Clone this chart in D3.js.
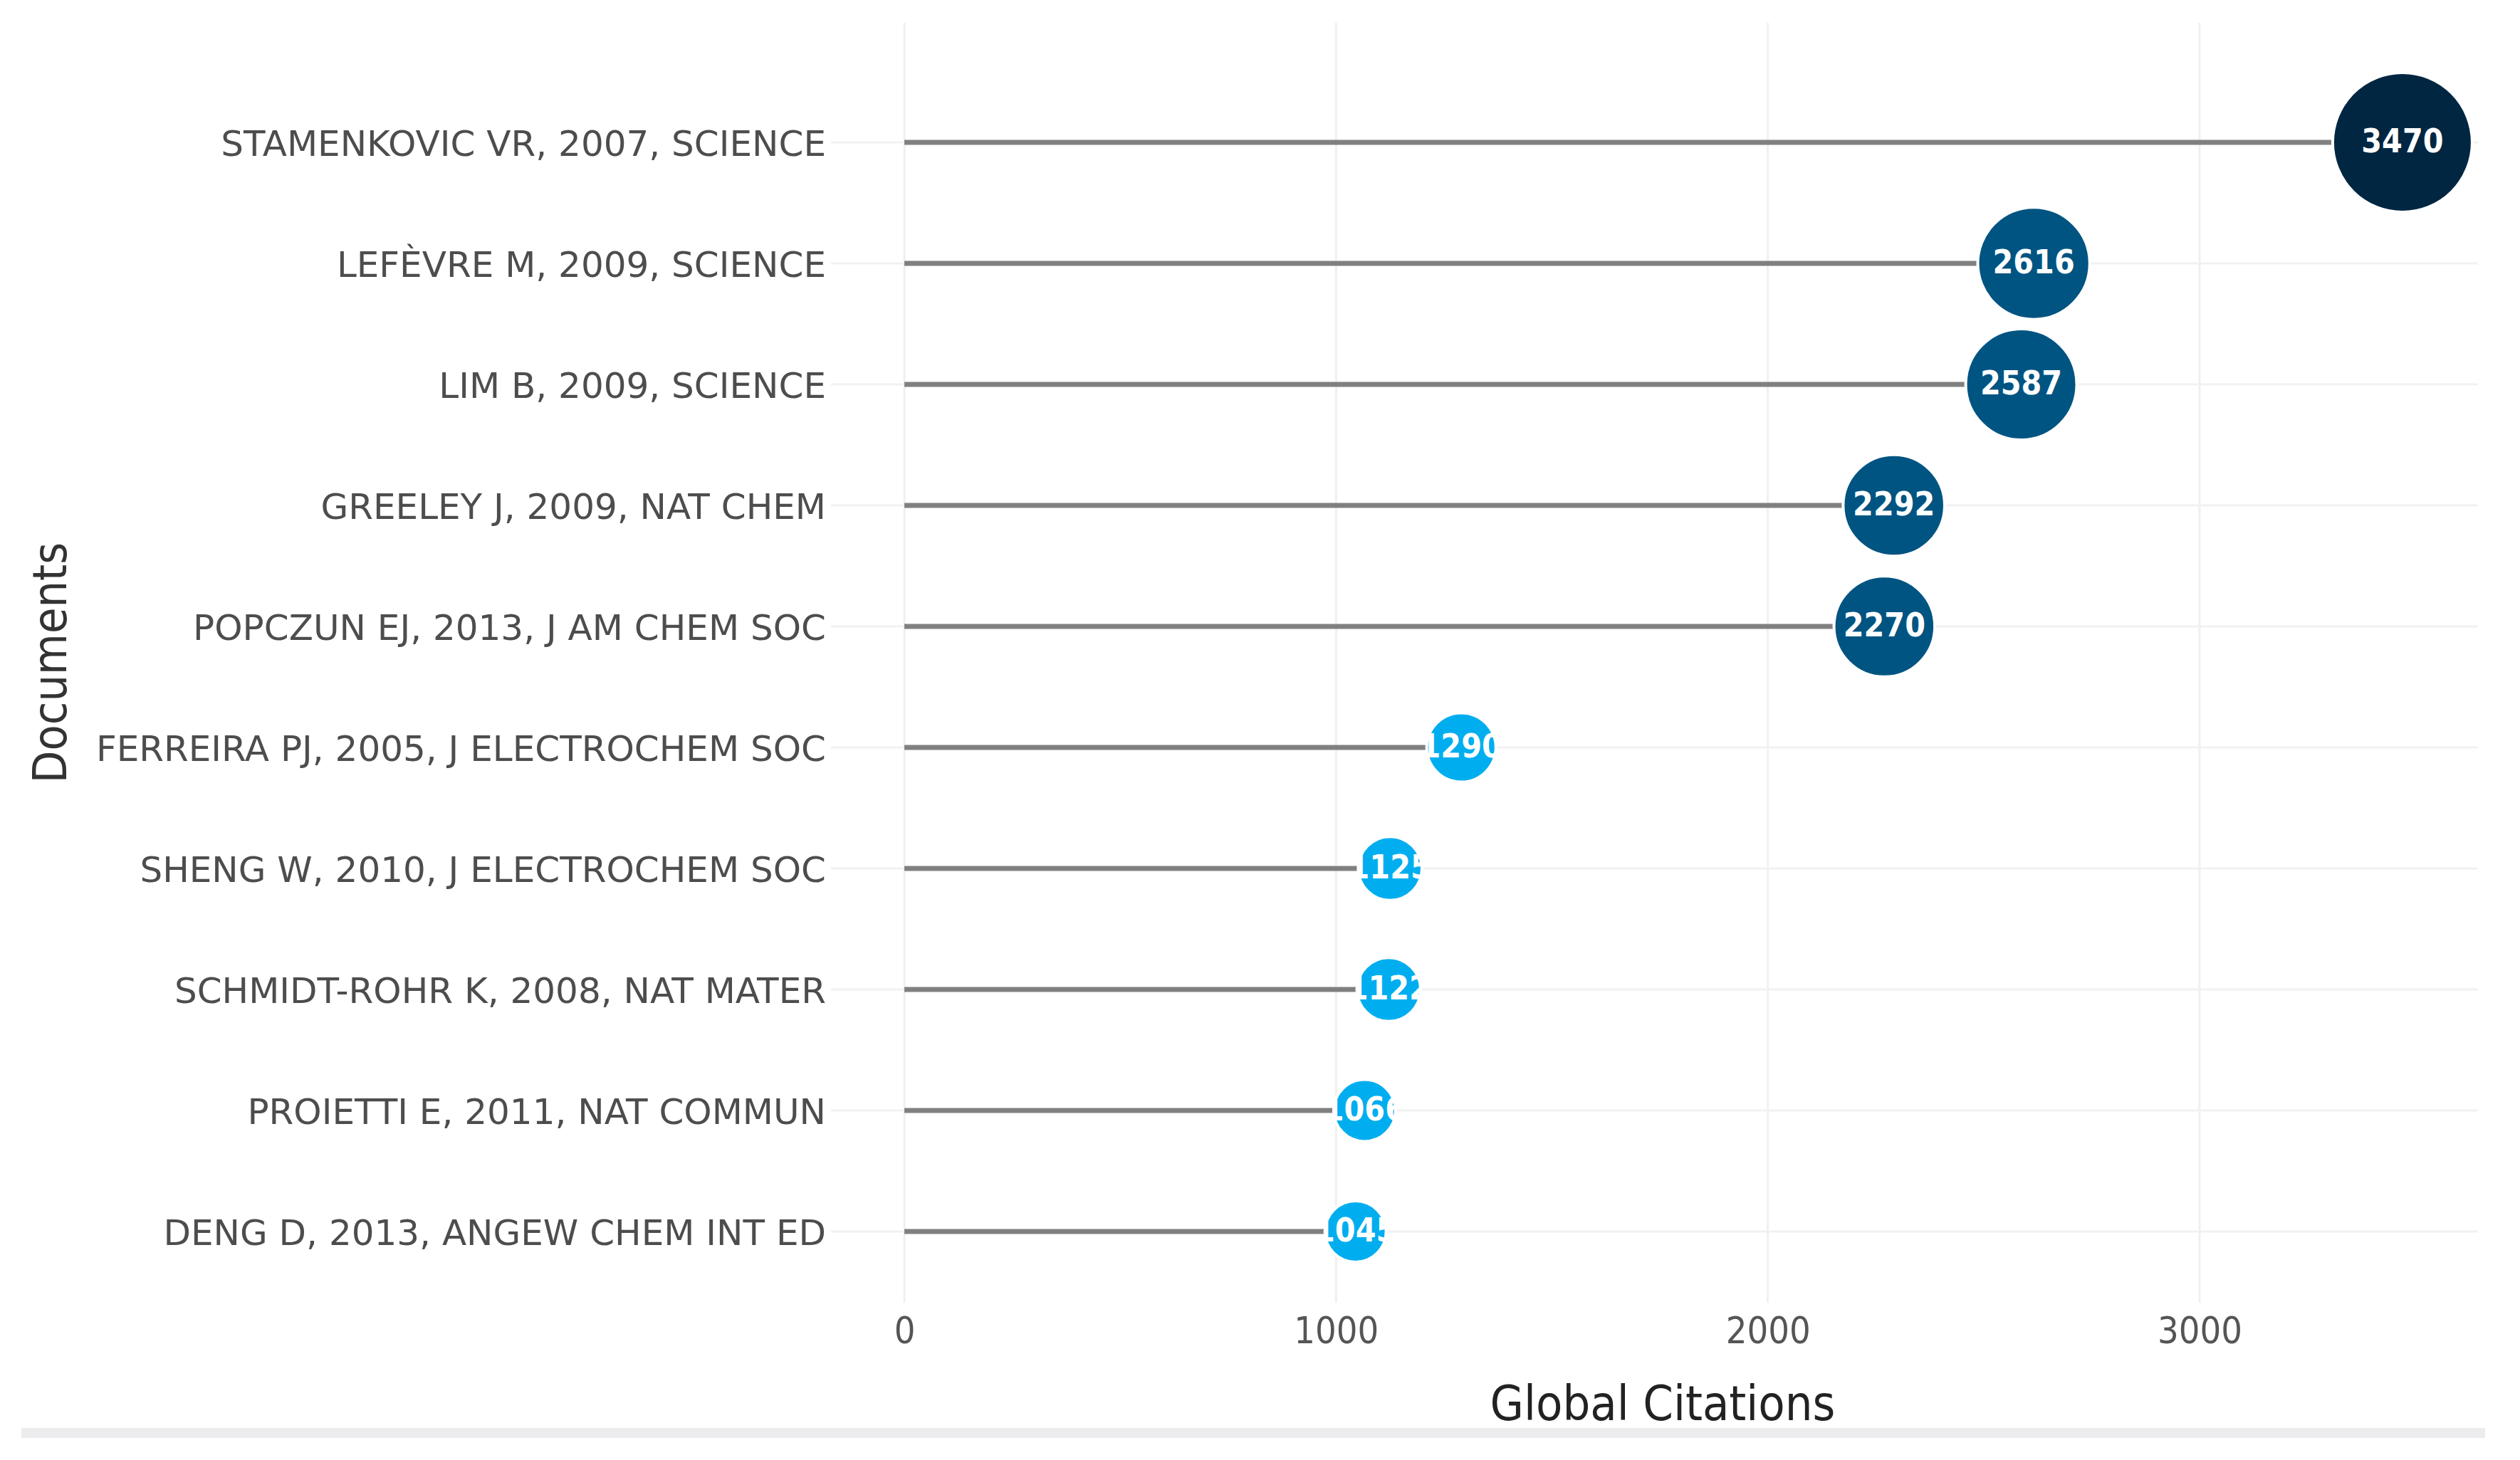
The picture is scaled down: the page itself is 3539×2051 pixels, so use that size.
<!DOCTYPE html>
<html>
<head>
<meta charset="utf-8">
<script src="https://cdn.jsdelivr.net/npm/d3@7"></script>
<style>
  body { margin: 0; background: #ffffff; }
  svg { display: block; }
</style>
</head>
<body>
<svg id="chart"></svg>
<script>
// documents, top to bottom
let documents = [
    "STAMENKOVIC VR, 2007, SCIENCE",
    "LEFÈVRE M, 2009, SCIENCE",
    "LIM B, 2009, SCIENCE",
    "GREELEY J, 2009, NAT CHEM",
    "POPCZUN EJ, 2013, J AM CHEM SOC",
    "FERREIRA PJ, 2005, J ELECTROCHEM SOC",
    "SHENG W, 2010, J ELECTROCHEM SOC",
    "SCHMIDT-ROHR K, 2008, NAT MATER",
    "PROIETTI E, 2011, NAT COMMUN",
    "DENG D, 2013, ANGEW CHEM INT ED"
];
let citations = [3470, 2616, 2587, 2292, 2270, 1290, 1125, 1122, 1066, 1045];
let xTicks = [0, 1000, 2000, 3000];

let width = 3539;
let height = 2051;

let svg = d3.select("#chart")
    .attr("width", width)
    .attr("height", height);

let values = documents.map((d, i) => ({ doc: d, value: citations[i] }));

// scales
let xScale = d3.scaleLinear()
    .domain([-170, 3645])
    .range([1167, 3480]);

let yScale = d3.scalePoint()
    .domain(documents)
    .range([200, 1730]);

let rScale = d3.scaleLinear()
    .domain(d3.extent(citations))
    .range([43, 98]);

let colorScale = d3.scaleThreshold()
    .domain([2000, 3000])
    .range(["#00aeef", "#005482", "#002642"]);

let plotTop = 32;
let plotBottom = 1830;

// grid
svg.append("g")
    .attr("class", "x-grid")
    .selectAll("line")
    .data(xTicks)
    .enter()
    .append("line")
    .attr("x1", (d) => xScale(d))
    .attr("x2", (d) => xScale(d))
    .attr("y1", plotTop)
    .attr("y2", plotBottom)
    .attr("stroke", "#f0f0f0")
    .attr("stroke-width", 3);

svg.append("g")
    .attr("class", "y-grid")
    .selectAll("line")
    .data(documents)
    .enter()
    .append("line")
    .attr("x1", xScale.range()[0])
    .attr("x2", xScale.range()[1])
    .attr("y1", (d) => yScale(d))
    .attr("y2", (d) => yScale(d))
    .attr("stroke", "#f2f2f2")
    .attr("stroke-width", 3);

// x axis (labels only)
let xAxis = d3.axisBottom(xScale)
    .tickValues(xTicks)
    .tickSize(0)
    .tickPadding(0)
    .tickFormat(d3.format("d"));

svg.append("g")
    .attr("id", "x-axis")
    .attr("transform", "translate(0," + plotBottom + ")")
    .call(xAxis)
    .call((g) => g.select(".domain").remove())
    .selectAll("text")
    .attr("y", 57)
    .attr("dy", 0)
    .attr("fill", "#555555")
    .style("font-family", "'DejaVu Sans Condensed', 'DejaVu Sans', sans-serif")
    .style("font-stretch", "condensed")
    .style("font-size", "52px");

// y axis (labels only)
let yAxis = d3.axisLeft(yScale)
    .tickSize(0)
    .tickPadding(0);

svg.append("g")
    .attr("id", "y-axis")
    .attr("transform", "translate(1160,0)")
    .call(yAxis)
    .call((g) => g.select(".domain").remove())
    .selectAll("text")
    .attr("x", 0)
    .attr("dy", "0.36em")
    .attr("fill", "#4d4d4d")
    .style("font-family", "'DejaVu Sans', Verdana, sans-serif")
    .style("font-size", "50px");

// stems
svg.append("g")
    .attr("class", "stems")
    .selectAll("line")
    .data(values)
    .enter()
    .append("line")
    .attr("x1", xScale(0))
    .attr("x2", (d) => xScale(d.value))
    .attr("y1", (d) => yScale(d.doc))
    .attr("y2", (d) => yScale(d.doc))
    .attr("stroke", "#808080")
    .attr("stroke-width", 7);

// clip paths so labels stay within each dot's width
let defs = svg.append("defs");
defs.selectAll("clipPath")
    .data(values)
    .enter()
    .append("clipPath")
    .attr("id", (d, i) => "clip-" + i)
    .append("rect")
    .attr("x", (d) => xScale(d.value) - rScale(d.value))
    .attr("width", (d) => 2 * rScale(d.value))
    .attr("y", (d) => yScale(d.doc) - rScale(d.value) - 20)
    .attr("height", (d) => 2 * rScale(d.value) + 40);

// dots
svg.append("g")
    .attr("class", "dots")
    .selectAll("circle")
    .data(values)
    .enter()
    .append("circle")
    .attr("cx", (d) => xScale(d.value))
    .attr("cy", (d) => yScale(d.doc))
    .attr("r", (d) => rScale(d.value))
    .attr("fill", (d) => colorScale(d.value))
    .attr("stroke", "#ffffff")
    .attr("stroke-width", 4);

// dot labels
svg.append("g")
    .attr("class", "dot-labels")
    .selectAll("text")
    .data(values)
    .enter()
    .append("text")
    .attr("clip-path", (d, i) => "url(#clip-" + i + ")")
    .attr("x", (d) => xScale(d.value))
    .attr("y", (d) => yScale(d.doc))
    .attr("dy", "0.3em")
    .attr("text-anchor", "middle")
    .attr("fill", "#ffffff")
    .style("font-family", "'DejaVu Sans Condensed', 'DejaVu Sans', sans-serif")
    .style("font-stretch", "condensed")
    .style("font-weight", "bold")
    .style("font-size", "46px")
    .text((d) => d.value);

// axis titles
svg.append("text")
    .attr("x", 2335)
    .attr("y", 1995)
    .attr("text-anchor", "middle")
    .attr("fill", "#222222")
    .style("font-family", "'DejaVu Sans Condensed', 'DejaVu Sans', sans-serif")
    .style("font-stretch", "condensed")
    .style("font-size", "68px")
    .text("Global Citations");

svg.append("text")
    .attr("transform", "translate(93,931) rotate(-90)")
    .attr("text-anchor", "middle")
    .attr("fill", "#333333")
    .style("font-family", "'DejaVu Sans Condensed', 'DejaVu Sans', sans-serif")
    .style("font-stretch", "condensed")
    .style("font-weight", "200")
    .style("font-size", "66px")
    .text("Documents");

// bottom separator
svg.append("rect")
    .attr("x", 30)
    .attr("y", 2006)
    .attr("width", 3460)
    .attr("height", 14)
    .attr("fill", "#ececef");
</script>
</body>
</html>
